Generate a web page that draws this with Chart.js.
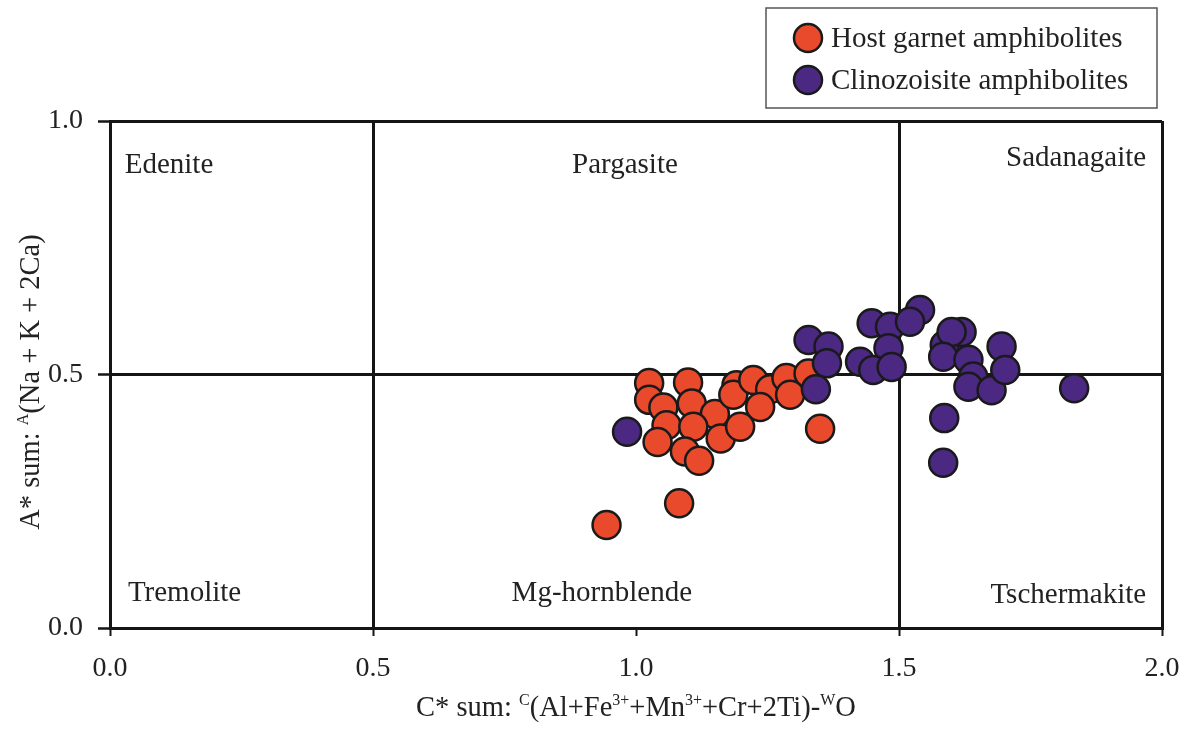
<!DOCTYPE html>
<html>
<head>
<meta charset="utf-8">
<title>Amphibole classification</title>
<script src="https://cdn.jsdelivr.net/npm/chart.js@4.4.1/dist/chart.umd.min.js"></script>
<style>
  html, body { margin: 0; padding: 0; background: #fff; }
  #wrap { width: 1192px; height: 729px; }
</style>
</head>
<body>
<div id="wrap"><canvas id="amphChart" width="1192" height="729"></canvas></div>
<script>
// C* sum (x) and A* sum (y) for each analysed amphibole
const hostGarnetC = [1.025, 1.099, 1.025, 1.052, 1.106, 1.150, 1.191, 1.185, 1.223, 1.255, 1.236, 1.286,
  1.293, 1.328, 1.058, 1.109, 1.041, 1.093, 1.120, 1.161, 1.198, 1.350, 1.082, 0.944];
const hostGarnetA = [0.483, 0.484, 0.450, 0.435, 0.443, 0.422, 0.479, 0.460, 0.489, 0.471, 0.436, 0.493,
  0.460, 0.502, 0.400, 0.397, 0.367, 0.348, 0.330, 0.374, 0.397, 0.393, 0.246, 0.203];

const clinozoisiteC = [0.983, 1.328, 1.366, 1.363, 1.342, 1.448, 1.483, 1.540, 1.521, 1.480, 1.426, 1.451,
  1.486, 1.587, 1.619, 1.600, 1.584, 1.632, 1.641, 1.632, 1.676, 1.695, 1.702, 1.586, 1.584, 1.833];
const clinozoisiteA = [0.387, 0.568, 0.555, 0.522, 0.471, 0.601, 0.594, 0.627, 0.604, 0.552, 0.525, 0.509,
  0.515, 0.558, 0.584, 0.584, 0.535, 0.529, 0.496, 0.476, 0.469, 0.555, 0.509, 0.414, 0.326, 0.473];

const seriesNames = ["Host garnet amphibolites", "Clinozoisite amphibolites"];
const xTicks = [0, 0.5, 1, 1.5, 2];
const yTicks = [0, 0.5, 1];

// field names of the classification diagram
const fieldNames = ["Edenite", "Pargasite", "Sadanagaite", "Tremolite", "Mg-hornblende", "Tschermakite"];

const SERIF = "'Liberation Serif', 'Times New Roman', serif";
const INK = "#222";

function toPoints(xs, ys) {
  return xs.map((x, i) => ({ x: x, y: ys[i] }));
}

// where each field name sits (data units) and how it is anchored
const fieldPlacement = [
  { x: 0.028, y: 0.913, align: "left" },
  { x: 0.979, y: 0.913, align: "center" },
  { x: 1.97, y: 0.927, align: "right" },
  { x: 0.034, y: 0.069, align: "left" },
  { x: 0.935, y: 0.069, align: "center" },
  { x: 1.97, y: 0.065, align: "right" }
];

// text made of normal and superscript pieces
function drawRuns(ctx, runs, cx, cy, size) {
  const supSize = Math.round(size * 0.55);
  let total = 0;
  runs.forEach(r => {
    ctx.font = (r.sup ? supSize : size) + "px " + SERIF;
    r.w = ctx.measureText(r.t).width;
    total += r.w;
  });
  let x = cx - total / 2;
  ctx.textBaseline = "alphabetic";
  ctx.textAlign = "left";
  runs.forEach(r => {
    ctx.font = (r.sup ? supSize : size) + "px " + SERIF;
    ctx.fillText(r.t, x, cy + size * 0.33 - (r.sup ? size * 0.4 : 0));
    x += r.w;
  });
}

const decorations = {
  id: "decorations",
  afterDraw(chart) {
    const ctx = chart.ctx;
    const xs = chart.scales.x;
    const ys = chart.scales.y;
    ctx.save();
    ctx.fillStyle = INK;

    // field names
    ctx.font = "29px " + SERIF;
    ctx.textBaseline = "middle";
    fieldNames.forEach((name, i) => {
      const p = fieldPlacement[i];
      ctx.textAlign = p.align;
      ctx.fillText(name, xs.getPixelForValue(p.x), ys.getPixelForValue(p.y));
    });

    // x axis title
    drawRuns(ctx, [
      { t: "C* sum: " }, { t: "C", sup: true }, { t: "(Al+Fe" }, { t: "3+", sup: true },
      { t: "+Mn" }, { t: "3+", sup: true }, { t: "+Cr+2Ti)-" }, { t: "W", sup: true }, { t: "O" }
    ], (chart.chartArea.left + chart.chartArea.right) / 2, 707, 28.5);

    // y axis title
    ctx.save();
    ctx.translate(30, 382);
    ctx.rotate(-Math.PI / 2);
    drawRuns(ctx, [
      { t: "A* sum: " }, { t: "A", sup: true }, { t: "(Na + K + 2Ca)" }
    ], 0, 0, 28.5);
    ctx.restore();

    // legend box
    const box = { left: 766, top: 8, right: 1157, bottom: 108 };
    ctx.strokeStyle = "#555";
    ctx.lineWidth = 1.5;
    ctx.strokeRect(box.left, box.top, box.right - box.left, box.bottom - box.top);
    chart.data.datasets.forEach((ds, i) => {
      const cy = 38 + i * 42;
      ctx.beginPath();
      ctx.arc(808, cy, 14, 0, Math.PI * 2);
      ctx.fillStyle = ds.backgroundColor;
      ctx.fill();
      ctx.lineWidth = 2.5;
      ctx.strokeStyle = ds.borderColor;
      ctx.stroke();
      ctx.fillStyle = INK;
      ctx.font = "29px " + SERIF;
      ctx.textAlign = "left";
      ctx.textBaseline = "middle";
      ctx.fillText(ds.label, 831, cy + 1);
    });
    ctx.restore();
  }
};

const canvas = document.getElementById("amphChart");
new Chart(canvas, {
  type: "scatter",
  data: {
    datasets: [
      {
        label: seriesNames[0],
        data: toPoints(hostGarnetC, hostGarnetA),
        backgroundColor: "#EA4A2C",
        borderColor: "#1a1a1a",
        borderWidth: 2.5,
        pointRadius: 14,
        pointHoverRadius: 14,
        order: 1
      },
      {
        label: seriesNames[1],
        data: toPoints(clinozoisiteC, clinozoisiteA),
        backgroundColor: "#4B2882",
        borderColor: "#1a1a1a",
        borderWidth: 2.5,
        pointRadius: 14,
        pointHoverRadius: 14,
        order: 0
      }
    ]
  },
  options: {
    responsive: false,
    animation: false,
    devicePixelRatio: 1,
    layout: { padding: { top: 121, right: 30, left: 0, bottom: 0 } },
    plugins: {
      legend: { display: false },
      tooltip: { enabled: false }
    },
    scales: {
      x: {
        type: "linear",
        min: 0,
        max: 2,
        afterBuildTicks: s => { s.ticks = xTicks.map(v => ({ value: v })); },
        afterFit: s => {
          s.height = 101;
          // let the last label overhang instead of shrinking the plot
          s.paddingRight = 0;
          s.paddingLeft = 0;
        },
        ticks: {
          callback: v => v.toFixed(1),
          font: { family: SERIF, size: 28 },
          color: INK,
          padding: 16,
          maxRotation: 0
        },
        grid: {
          color: c => (c.tick && c.tick.value === 1 ? "rgba(0,0,0,0)" : "#151515"),
          tickColor: "#151515",
          lineWidth: 3,
          tickWidth: 2,
          tickLength: 8
        },
        border: { display: true, color: "#151515", width: 3 },
        title: { display: false }
      },
      y: {
        type: "linear",
        min: 0,
        max: 1,
        afterBuildTicks: s => { s.ticks = yTicks.map(v => ({ value: v })); },
        afterFit: s => { s.width = 110; },
        ticks: {
          callback: v => v.toFixed(1),
          font: { family: SERIF, size: 28 },
          color: INK,
          padding: 15
        },
        grid: {
          color: "#151515",
          tickColor: "#151515",
          lineWidth: 3,
          tickWidth: 2.5,
          tickLength: 12
        },
        border: { display: true, color: "#151515", width: 3 },
        title: { display: false }
      }
    }
  },
  plugins: [decorations]
});
</script>
</body>
</html>
